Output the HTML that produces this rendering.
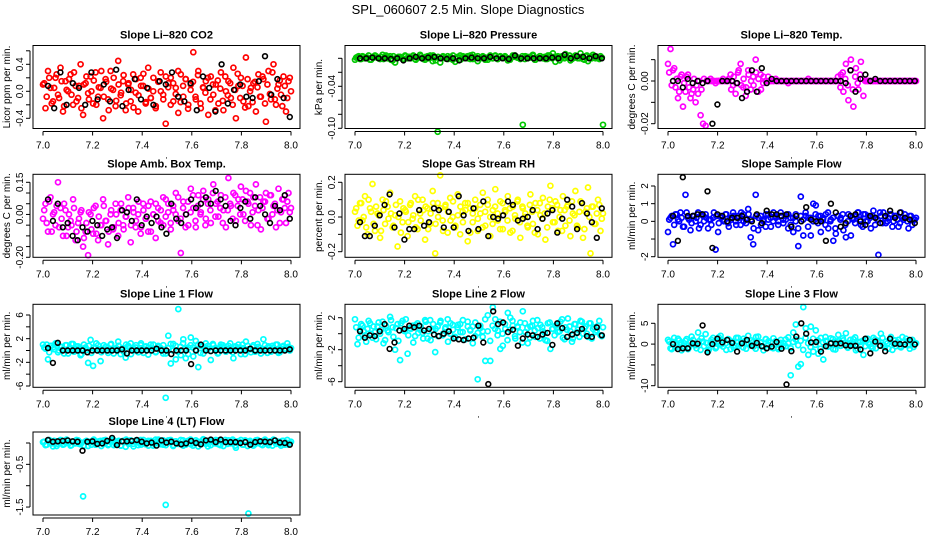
<!DOCTYPE html>
<html><head><meta charset="utf-8"><style>
body{margin:0;background:#fff}
svg{display:block;font-family:"Liberation Sans",Arial,sans-serif}
</style></head><body>
<svg id="chart" width="936" height="540" viewBox="0 0 936 540" xmlns="http://www.w3.org/2000/svg">
<text x="468" y="14" text-anchor="middle" font-size="13">SPL_060607  2.5 Min. Slope Diagnostics</text>
</svg>
<script>
const xTickValues=[7.0,7.2,7.4,7.6,7.8,8.0];
const xTickLabels=["7.0","7.2","7.4","7.6","7.8","8.0"];

const co2Values=[0.10,-0.25,0.30,0.05,-0.15,0.20,-0.05,0.35,-0.30,0.15,0,0.25,-0.20,0.08,-0.10,0.40,-0.35,0.12,-0.03,0.22,-0.18,0.28,-0.08,0.05,-0.40,0.18,-0.12,0.30,0.02,-0.22,0.45,-0.06,0.15,-0.28,0.10,-0.15,0.25,-0.02,-0.30,0.20,0.08,-0.18,0.35,-0.10,0,-0.25,0.15,0.28,-0.05,-0.48,0.12,0.20,-0.15,0.05,-0.32,0.25,-0.08,0.18,-0.20,0.10,0.58,-0.12,0.30,-0.25,0.05,0.15,-0.35,0.22,-0.05,0.10,-0.18,0.28,-0.28,0,0.15,-0.10,0.35,-0.40,0.08,0.20,-0.15,0.50,-0.22,0.05,0.12,-0.30,0.25,-0.08,0.18,-0.45,0.30,-0.12,0.40,-0.20,0.10,-0.05,0.22,-0.30,0.15,0];
const co2Values2=[0.12,-0.08,0.2,-0.18,0.05,0.25,-0.1,0.15,-0.22,0.02,0.18,-0.05,0.28,-0.15,0.08,-0.25,0.1,0.22,-0.12,0,0.16,-0.2,0.06,0.3,-0.08,0.14,-0.28,0.04,0.2,-0.14,0.1,-0.02,0.24,-0.18,0.12,0.02,-0.24,0.18,-0.06,0.08,0.26,-0.16,0.04,-0.1,0.2,-0.22,0.14,0.0,-0.12,0.22,0.06,-0.2,0.12,-0.04,0.3,-0.16,0.08,0.18,-0.26,0.02,0.14,-0.08,0.24,-0.18,0.06,-0.02,0.2,-0.12,0.1,-0.28,0.16,0.04,-0.14,0.22,-0.06,0.12,-0.2,0.02,0.26,-0.1,0.08,-0.24,0.18,0.0,-0.16,0.14,0.06,-0.08,0.22,-0.18,0.1,-0.04,0.28,-0.12,0.04,0.16,-0.22,0.08,-0.1,0.2];
const co2Ref=[0.08,-0.25,0.28,-0.20,0.12,0.05,-0.20,0.28,-0.12,0.10,-0.15,0.32,-0.22,0.02,0.18,-0.12,0.05,-0.20,0.15,0.10,0.28,-0.08,-0.15,0.12,-0.28,0.22,0.05,-0.30,0.40,-0.18,0.02,0.10,-0.08,-0.10,0.15,0.52,-0.05,0.18,-0.10,-0.38];
const co2Ticks=[-0.4,-0.2,0,0.2,0.4,0.6];
const co2TickLabels=["-0.4","","0.0","","0.4",""];

const pressValues=[-0.002,0.002,-0.001,0.003,0,0.001,-0.002,0.002,0.004,0.001,-0.001,0.005,0.002,0,0.003,-0.003,-0.006,0.001,0.002,-0.001,0.004,0,0.002,0.003,-0.001,0.001,0.005,0,-0.002,0.003,0.004,-0.004,0.001,-0.105,-0.006,0.002,0,0.003,0.001,-0.002,-0.005,0.002,0.004,0,0.001,0.003,-0.001,0.005,0.002,-0.004,0,0.003,0.001,-0.002,0.002,0,0.004,-0.001,0.003,0.001,0.002,-0.003,0,0.004,0.002,0.001,-0.001,-0.095,0.003,0,0.002,0.005,-0.002,0.001,0.003,0,-0.001,0.004,0.002,0.007,-0.005,0.003,0,0.002,0.006,0.001,-0.003,0.002,0.004,0,0.007,-0.001,0.003,-0.004,0.002,0.005,0,0.001,0.003,-0.095];
const pressValues2=[0.001,0.003,-0.001,0.002,0,0.004,-0.002,0.001,0.003,0,0.002,-0.001,0.004,0.001,-0.002,0.003,0,0.002,0.001,-0.001,0.003,0.002,0,0.004,-0.002,0.001,0.003,-0.001,0.002,0,0.001,0.004,-0.003,0.002,0,0.003,0.001,-0.001,0.002,0.004,0,0.001,-0.002,0.003,0.002,0,0.004,-0.001,0.001,0.003,0,0.002,-0.002,0.001,0.004,0,0.003,-0.001,0.002,0.001,0.003,0,-0.002,0.002,0.004,0.001,0,0.003,-0.001,0.002,0.001,0.004,-0.002,0,0.003,0.001,0.002,-0.001,0.004,0,0.002,0.001,-0.003,0.003,0,0.002,0.004,-0.001,0.001,0.003,0,0.002,-0.002,0.004,0.001,0,0.003,0.002,-0.001,0.001];
const pressRef=[0,0,0.001,0,0,-0.001,0,-0.003,0,0.002,0,0.001,0.002,0,-0.001,0,-0.003,0,0.001,0,0,0.002,0,0,-0.001,0.004,0,0,0,0,0,0.001,0,0.005,0,0.003,0.002,0,0.003,0];
const pressTicks=[0,-0.02,-0.04,-0.06,-0.08,-0.10];
const pressTickLabels=["","","-0.04","","","-0.10"];

const liTempValues=[0.008,0.015,0.005,-0.003,-0.008,0.002,-0.012,-0.005,0.003,-0.008,-0.004,-0.010,-0.006,-0.016,-0.020,-0.021,0,0.001,0,-0.001,0,0,0.001,0,0,0.003,-0.002,-0.006,0.004,0.008,-0.003,-0.007,0.005,-0.004,0.002,0.010,-0.005,0.003,-0.001,0,0.002,0,0,0.001,0,0,0,0,-0.001,0,0,0,0,0,0,0,0.001,0,0,0,0,0,0,0,0,0,0,0,0,0.003,-0.005,0.008,-0.009,0.010,-0.012,0.006,-0.004,0.009,-0.007,0,0,0,0,0,0,0,0,0,0,0,0,0,0,0,0,0,0,0,0,0];
const liTempValues2=[0.004,-0.002,0.006,0.001,-0.005,0.003,-0.001,0.002,-0.003,-0.006,0.001,-0.002,0.000,-0.004,0.001,0,0,0,0,0,0,0,0,0,0.001,-0.004,0.002,-0.001,0.005,-0.002,0.001,-0.003,0.003,0.000,-0.002,0.004,0.001,-0.004,0.002,0,0,0,0,0,0,0,0,0,0,0,0,0,0,0,0,0,0,0,0,0,0,0,0,0,0,0,0,0,0.002,-0.003,0.004,0.001,-0.002,0.005,-0.004,0.002,-0.001,0.003,0.001,0,0,0,0,0,0,0,0,0,0,0,0,0,0,0,0,0,0,0,0,0];
const liTempRef=[0,0,-0.003,0.001,-0.001,0,-0.001,0,-0.020,-0.011,0,0,0,-0.001,-0.008,-0.005,0.005,-0.005,0.006,-0.001,0.001,0,0,0,0,0,0,0,0,0,0,0,0,0,0,-0.001,0.005,-0.005,0.001,0.003,0,0.001,0,0,0,0,0,0,0,0];
const liTempTicks=[0.01,0,-0.01,-0.02];
const liTempTickLabels=["","0.00","","-0.02"];

const ambValues=[-0.02,0.05,-0.08,0.08,0,-0.05,0.15,0.03,-0.10,0.02,-0.06,-0.03,0.07,-0.12,-0.04,0.01,-0.15,-0.08,-0.19,0,-0.09,0.04,-0.12,-0.05,0.07,-0.03,-0.14,0,-0.07,0.05,-0.10,0.02,-0.05,-0.01,0.08,-0.13,0.03,-0.06,0,-0.09,0.05,-0.02,-0.08,0.06,0,-0.11,0.03,-0.04,0.08,-0.01,0.05,-0.07,0.02,0.10,-0.03,-0.18,0.06,0,-0.05,0.12,0.03,-0.06,0.09,0.01,0.11,-0.02,0.07,-0.04,0.14,0.05,-0.01,0.09,0.02,-0.06,0.17,0.04,0.10,-0.03,0.07,0.13,0,0.11,0.05,-0.05,0.08,0.14,0.02,-0.07,0.06,0.10,-0.02,0.09,0.04,-0.06,0.12,0.01,0.07,-0.04,0.10,0.03];
const ambValues2=[0.02,-0.04,0.06,-0.08,0.01,0.04,-0.06,-0.02,0.05,-0.1,0.0,-0.05,0.03,-0.08,-0.02,0.02,-0.11,-0.04,0.01,-0.07,0.03,-0.09,-0.01,-0.05,0.04,-0.03,-0.08,0.02,-0.06,0.0,-0.04,0.05,-0.07,-0.01,0.03,-0.05,0.01,-0.03,0.06,-0.06,0.02,-0.02,0.04,-0.08,0.0,0.05,-0.03,0.02,-0.05,0.07,0.01,-0.04,0.04,0.0,0.08,-0.02,0.03,-0.06,0.06,0.01,0.09,-0.03,0.04,0.0,0.07,-0.05,0.05,0.02,0.1,-0.01,0.06,0.03,-0.04,0.08,0.02,0.05,-0.02,0.09,0.04,0.0,0.07,-0.03,0.06,0.1,0.01,0.04,-0.05,0.08,0.03,0.06,-0.02,0.09,0.0,0.05,0.02,-0.04,0.07,0.03,0.06,0.01];
const ambRef=[0.07,-0.03,0.05,-0.06,-0.04,-0.10,-0.12,-0.06,-0.08,-0.03,-0.05,-0.10,-0.07,-0.06,-0.11,0.02,0.01,-0.03,0.07,-0.05,-0.01,-0.04,-0.01,-0.06,-0.09,0.05,-0.02,-0.04,0,0.07,0.03,0.05,0.08,0.05,0.11,0.07,0.04,-0.03,-0.05,0.03,0.06,-0.02,0.08,0.04,0,-0.04,0.04,0.02,0.09,-0.02];
const ambTicks=[0.15,0.10,0.05,0,-0.05,-0.10,-0.15,-0.20];
const ambTickLabels=["0.15","","","0.00","","","","-0.20"];

const rhValues=[0.03,-0.05,0.08,-0.02,0.12,-0.1,0.05,0.19,-0.08,0.02,-0.12,0.1,-0.04,0.06,0.14,-0.06,0.01,-0.17,0.09,-0.03,0.04,-0.11,0.07,-0.01,0.12,-0.07,0.02,0.1,-0.13,0.05,-0.04,0.15,-0.21,0.08,0.24,-0.02,0.06,-0.09,0.11,0.0,-0.06,0.13,-0.1,0.03,0.08,-0.14,0.05,-0.03,0.1,-0.08,0.02,0.14,-0.05,0.07,-0.11,0.04,0.16,-0.02,0.09,-0.07,0.03,0.12,-0.09,0.06,-0.01,0.1,-0.12,0.05,0.02,-0.06,0.13,-0.04,0.08,-0.1,0.01,0.11,-0.13,0.06,0.18,-0.03,0.09,-0.08,0.04,0.12,-0.05,0.07,-0.11,0.02,0.15,-0.06,0.09,-0.12,0.03,0.17,-0.21,0.06,-0.04,0.1,-0.08,0.02];
const rhValues2=[0.05,-0.02,0.08,0.0,-0.06,0.1,0.03,-0.04,0.06,0.01,-0.08,0.04,0.09,-0.01,0.02,-0.05,0.07,0.0,-0.09,0.05,0.03,-0.03,0.08,0.01,-0.06,0.1,-0.02,0.04,0.06,-0.07,0.02,0.08,-0.04,0.0,0.05,-0.08,0.07,0.03,-0.02,0.09,-0.05,0.01,0.06,-0.03,0.04,0.08,-0.09,0.02,0.05,-0.01,0.07,-0.06,0.03,0.1,0.0,-0.04,0.06,0.02,-0.07,0.08,0.04,-0.02,0.05,-0.08,0.01,0.09,-0.03,0.06,0.0,-0.05,0.07,0.03,-0.09,0.04,0.08,-0.01,0.02,-0.06,0.1,0.05,-0.03,0.07,0.0,-0.08,0.04,0.06,-0.02,0.09,0.01,-0.05,0.03,0.08,-0.07,0.05,0.0,0.06,-0.04,0.02,0.07,-0.01];
const rhRef=[-0.03,-0.11,-0.11,-0.05,0.01,0.07,0.13,-0.06,0.02,-0.13,-0.07,-0.07,0.04,-0.05,-0.03,0.05,0.04,-0.06,0.03,-0.06,0.12,0.01,-0.08,0.05,-0.07,0.09,-0.11,0.0,-0.01,0.01,0.09,0.07,-0.02,-0.01,0.0,0.04,-0.07,-0.01,0.02,0.04,-0.09,-0.01,0.1,0.06,-0.07,0.08,0.02,-0.03,-0.12,0.05];
const rhTicks=[0.2,0.1,0,-0.1,-0.2];
const rhTickLabels=["0.2","","0.0","","-0.2"];

const sampleValues=[-0.6,0.2,-1.3,0.4,0.1,0.5,-0.3,1.5,0.2,-0.5,0.3,0.0,0.5,-0.2,0.3,0.4,-0.4,0.1,0.2,-1.6,-0.6,0.3,0.1,0.4,-0.1,0.2,0.5,0.0,0.3,-0.2,0.4,0.1,0.7,-0.9,-1.3,1.5,-0.5,0.3,0.1,-0.3,0.4,0.2,0.0,0.3,-0.2,0.5,0.1,0.3,-0.4,0.2,-0.6,0.4,-1.4,1.4,-0.8,0.3,0.2,-0.8,1.0,0.9,0.3,-0.6,0.2,0.4,-0.4,0.1,-1.1,-0.7,0.3,0.2,-0.5,-0.9,0.4,-0.8,0.1,0.3,0.5,-0.2,0.4,0.0,0.3,-0.4,0.6,0.2,-1.9,0.3,0.5,-0.1,0.2,0.4,0.0,0.3,-0.3,0.5,0.1,0.2,-0.4,0.3,0.1,0.2];
const sampleValues2=[0.1,0.3,-0.2,0.4,0.0,0.2,-0.3,0.5,0.1,-0.1,0.3,0.2,-0.4,0.4,0.0,0.2,0.1,-0.2,0.5,0.3,-0.1,0.2,0.0,0.4,-0.3,0.1,0.3,-0.2,0.2,0.5,0.0,-0.1,0.4,0.1,-0.4,0.3,0.2,-0.2,0.0,0.4,0.1,-0.3,0.5,0.2,0.0,0.3,-0.1,0.1,0.4,-0.2,0.2,0.0,-0.4,0.3,0.1,0.5,-0.3,0.2,0.0,0.4,-0.1,0.3,0.1,-0.2,0.5,0.0,0.2,-0.4,0.3,0.1,0.4,-0.2,0.0,0.3,0.2,-0.1,0.5,0.1,-0.3,0.4,0.0,0.2,0.3,-0.2,0.1,0.5,-0.1,0.2,0.0,0.4,-0.3,0.3,0.1,-0.1,0.2,0.4,0.0,0.3,-0.2,0.1];
const sampleRef=[0.3,-1.1,2.5,0.3,0.3,0.4,0.4,1.7,-1.5,0.4,0.3,0.0,0.2,0.2,0.3,0.1,0.0,0.4,-0.1,0.6,0.4,0.4,0.3,0.4,-0.3,0.3,0.0,0.8,0.1,0.0,0.0,-1.1,1.0,0.5,-0.3,-0.1,0.3,0.4,0.0,-0.2,0.3,0.2,-0.1,0.3,0.6,0.2,0.5,0.2,0.1,-0.1];
const sampleTicks=[2,1,0,-1,-2];
const sampleTickLabels=["2","1","0","","-2"];

const line1Values=[1.0,0.3,-1.5,0.8,0.5,1.2,-0.3,0.6,0.2,0.9,-0.5,0.4,1.1,0.0,0.7,-0.8,0.3,0.5,-2.1,1.8,-2.6,0.4,0.9,-1.8,0.2,0.6,-0.4,1.0,0.3,0.1,1.5,-0.6,0.4,-1.2,0.8,1.2,0.0,0.5,-0.3,0.9,0.2,0.6,-0.7,1.0,0.3,-0.2,0.8,0.4,-0.5,-8.0,2.5,-2.2,1.1,-1.5,7.0,-0.8,1.9,-1.3,0.5,2.2,-1.0,1.6,-2.8,0.8,-0.5,1.2,0.3,-1.6,0.9,0.2,-0.4,1.0,0.5,-0.2,0.8,0.3,-1.3,0.6,1.0,-0.6,0.4,1.5,0.2,-0.3,0.9,0.1,0.6,-0.5,1.9,0.3,0.7,-0.2,0.5,1.0,-0.4,0.3,0.8,0.1,0.6,0.4];
const line1Values2=[0.5,1.0,-0.3,0.8,0.2,1.2,0.0,0.6,-0.5,0.9,0.3,1.1,-0.2,0.7,0.4,-0.6,1.0,0.1,0.8,-0.4,0.5,1.2,0.2,-0.3,0.9,0.6,0.0,1.1,-0.5,0.4,0.8,0.2,-0.2,1.0,0.6,-0.6,0.3,0.9,0.1,1.2,-0.4,0.7,0.5,0.0,1.0,-0.3,0.6,0.2,0.9,-0.5,0.4,1.1,0.0,0.8,-0.2,0.6,1.2,0.3,-0.6,0.9,0.5,0.1,1.0,-0.4,0.7,0.2,0.8,-0.1,1.1,0.4,-0.5,0.6,0.9,0.0,0.3,1.2,-0.3,0.7,0.5,0.1,1.0,-0.6,0.8,0.2,0.6,-0.2,1.1,0.4,0.0,0.9,-0.4,0.5,0.8,0.1,1.0,-0.3,0.6,0.3,1.2,0.0];
const line1Ref=[0.4,-2.1,1.3,0.0,0.0,0.0,0.0,0.0,-0.3,0.0,0.0,0.0,0.0,0.0,0.0,0.2,-0.5,0.0,0.0,0.0,0.0,0.0,0.3,0.0,0.0,-0.6,0.0,0.0,0.0,-2.3,0.0,1.0,0.0,-0.1,0.0,0.0,0.0,0.0,0.0,0.0,0.0,0.3,0.0,0.0,0.0,0.0,0.0,0.0,0.0,0.2];
const line1Ticks=[6,4,2,0,-2,-4,-6];
const line1TickLabels=["6","","2","","-2","","-6"];

const line2Values=[1.8,-1.3,0.5,1.0,-0.2,0.6,1.3,-0.5,0.2,0.9,0.0,1.5,-0.8,0.4,2.1,0.8,-2.0,1.2,-3.3,1.6,0.3,-2.5,0.7,1.0,-0.3,1.3,0.5,0.1,1.7,-0.6,1.7,0.4,-2.3,0.9,1.4,-0.2,0.6,1.8,0.0,1.1,-0.4,0.8,1.2,0.2,-0.7,1.5,0.5,0.9,-0.3,-5.7,1.0,0.3,-3.4,2.3,-3.4,3.3,1.8,0.4,-1.9,-1.5,0.6,2.6,2.0,1.0,-0.6,0.8,1.4,2.8,0.2,-1.2,0.9,1.6,-0.4,0.7,1.1,0.3,-0.8,1.3,-1.9,0.6,1.0,0.2,1.5,-0.5,0.8,1.9,0.3,-0.6,1.2,0.5,1.6,0.0,0.9,-0.4,1.3,0.6,0.2,1.0,-0.2,0.8];
const line2Values2=[0.8,-0.5,1.2,0.3,-1.0,1.6,0.0,0.9,-0.7,1.4,0.5,-1.2,1.0,0.2,1.7,-0.4,0.7,-0.9,1.3,0.4,1.8,-0.2,0.6,-1.1,1.1,0.1,0.9,-0.6,1.5,0.3,-0.8,1.2,0.6,-0.3,1.6,0.0,0.8,-1.0,1.3,0.5,-0.5,1.1,0.2,1.7,-0.7,0.9,0.4,-1.2,1.4,0.1,0.7,-0.4,1.8,0.3,-0.9,1.0,0.6,-0.2,1.5,0.0,1.2,-0.8,0.5,1.6,-0.3,0.9,0.2,-1.1,1.3,0.7,-0.5,1.0,0.4,1.7,-0.6,0.8,0.1,-0.9,1.4,0.6,-0.2,1.1,0.3,1.8,-0.7,0.5,0.9,-1.0,1.2,0.2,-0.4,1.5,0.7,0.0,1.3,-0.6,0.8,0.4,1.6,-0.3];
const line2Ref=[0.3,-0.5,-0.2,-0.3,0.3,1.2,-1.9,-1.1,0.4,0.6,1.0,0.8,1.0,0.4,0.6,-0.1,-0.3,0.0,0.3,-0.6,-0.7,-0.8,-0.6,-0.5,1.0,-1.1,-6.3,2.8,1.2,1.4,0.2,0.5,-1.5,-0.6,-0.1,-0.2,-0.4,-0.1,0.1,-1.4,1.3,0.7,-0.4,-0.1,0.1,0.6,-0.3,-0.4,0.8,-0.2];
const line2Ticks=[2,0,-2,-4,-6];
const line2TickLabels=["2","","-2","","-6"];

const line3Values=[1.0,-1.0,0.5,-0.8,1.3,0.2,-0.5,0.8,-1.2,0.4,1.0,-0.3,2.8,-1.4,0.6,2.4,-1.7,0.3,1.5,-1.0,0.8,2.0,-0.6,0.2,1.2,-1.2,0.6,-0.4,1.5,0.0,-0.8,0.9,2.0,-0.3,0.5,-1.1,1.8,0.3,-0.6,1.2,-0.2,0.4,-1.0,0.7,-0.8,0.3,-0.5,1.1,0.2,-7.5,2.8,4.7,-5.4,-4.8,8.9,3.8,-2.6,4.2,-1.8,3.3,-2.3,1.5,-3.7,0.8,-0.5,1.4,-1.2,0.6,2.2,-0.4,0.9,2.6,-0.7,0.3,1.2,-1.5,0.5,-0.3,-2.6,1.0,0.2,-0.6,1.5,-1.0,0.8,2.5,-0.2,0.6,-1.1,1.7,0.1,-0.5,1.0,-0.8,0.4,1.3,-0.3,0.6,-0.7,0.2];
const line3Values2=[0.6,-1.2,1.5,-0.3,0.9,-1.5,0.2,1.2,-0.8,1.8,0.0,-1.0,0.7,1.4,-0.5,0.3,-1.3,1.0,0.5,-0.7,1.6,-0.1,0.8,-1.4,1.1,0.2,-0.9,1.5,-0.4,0.6,1.3,-1.1,0.1,0.9,-0.6,1.7,-0.2,0.4,-1.5,1.2,0.7,-0.8,1.4,0.0,-1.2,1.0,0.3,-0.5,1.6,-1.0,0.5,1.1,-0.3,0.8,-1.4,1.5,0.2,-0.7,1.3,-0.2,0.9,-1.1,0.4,1.7,-0.6,0.1,1.2,-1.3,0.7,-0.4,1.4,0.3,-0.9,1.0,-0.1,1.6,-1.2,0.5,0.8,-0.5,1.3,0.0,-1.0,1.1,0.6,-0.3,1.5,-0.8,0.2,1.2,-1.4,0.9,0.4,-0.6,1.7,-0.2,0.7,-1.1,1.0,0.3];
const line3Ref=[0.0,-1.2,-1.0,-1.0,0.2,0.1,4.5,-2.0,0.0,1.3,0.4,1.0,0.3,-1.8,0.2,1.0,-0.4,0.3,-0.5,-1.0,-0.6,0.5,-1.1,-9.7,-1.7,1.8,5.0,2.5,0.4,0.5,-1.8,-0.5,0.2,0.1,0.2,-0.3,-0.4,-0.4,-1.3,1.3,-2.2,0.6,-0.4,-1.7,1.3,0.1,0.0,-0.1,1.0,-0.1];
const line3Ticks=[5,0,-5,-10];
const line3TickLabels=["5","0","","-10"];

const line4Values=[0.02,-0.05,0.06,0.0,-0.08,0.04,-0.02,0.07,-0.04,0.01,0.05,-0.06,0.03,-0.01,0.06,-0.03,-1.25,0.04,-0.07,0.02,0.06,-0.04,0.0,0.05,-0.02,0.07,-0.05,0.03,0.08,-0.03,0.01,-0.06,0.05,-0.09,0.02,0.06,-0.02,0.04,-0.05,0.07,0.0,-0.03,0.05,0.02,-0.06,0.08,-0.01,0.03,-0.04,-1.45,0.06,0.01,-0.05,0.04,-0.02,0.07,-0.06,0.02,0.05,-0.03,0.0,0.06,-0.08,0.03,0.09,-0.02,0.05,-0.05,0.01,0.07,-0.03,0.04,-0.07,0.02,0.06,-0.01,0.04,-0.11,0.03,0.07,-0.04,0.05,-1.65,0.02,-0.06,0.06,0.0,-0.03,0.05,0.02,-0.05,0.04,0.08,-0.02,0.03,-0.06,0.05,0.01,-0.04,0.03];
const line4Values2=[0.03,-0.04,0.07,-0.01,0.05,-0.07,0.02,0.06,-0.03,0.08,0.0,-0.05,0.04,0.07,-0.02,0.01,-0.06,0.05,0.03,-0.04,0.08,-0.01,0.04,-0.07,0.06,0.02,-0.03,0.07,-0.05,0.0,0.05,-0.06,0.03,0.08,-0.02,0.04,-0.08,0.06,0.01,-0.04,0.07,0.02,-0.06,0.05,-0.01,0.03,0.08,-0.03,0.06,-0.05,0.02,0.07,-0.07,0.04,0.0,-0.02,0.06,-0.04,0.05,0.08,-0.06,0.01,0.03,-0.03,0.07,0.02,-0.08,0.05,0.04,-0.01,0.06,-0.05,0.03,0.07,-0.02,0.0,0.08,-0.06,0.04,0.02,-0.04,0.06,-0.07,0.05,0.01,-0.03,0.07,0.03,-0.05,0.08,-0.01,0.04,-0.06,0.06,0.02,-0.02,0.05,-0.04,0.07,0.0];
const line4Ref=[0.07,0.03,0.04,0.05,0.06,0.04,0.03,-0.18,0.03,0.04,-0.02,-0.01,0.05,0.12,-0.05,0.04,0.04,0.05,0.07,0.03,-0.01,0.01,-0.06,0.06,0.01,0.03,-0.01,-0.03,-0.01,0.05,0.0,-0.03,0.06,0.08,0.02,0.08,0.02,0.02,0.02,0.0,0.02,-0.04,0.02,0.04,0.03,0.02,0.06,0.01,0.0,-0.04];
const line4Ticks=[0,-0.5,-1,-1.5];
const line4TickLabels=["","-0.5","","-1.5"];

const NS="http://www.w3.org/2000/svg";
const svg=document.getElementById('chart');
const colLeft=[33,345,658], rowTop=[45.5,174.3,304.3,432], boxW=267, boxH=83;

const panels=[
 {key:'co2',title:'Slope Li\u2013820 CO2',ylab:'Licor ppm per min.',col:0,row:0,color:'#ff0000',v:co2Values,v2:co2Values2,r:co2Ref,t:co2Ticks,tl:co2TickLabels,s:[0.4,64.3,-0.4,118.3]},
 {key:'pressure',title:'Slope Li\u2013820 Pressure',ylab:'kPa per min.',col:1,row:0,color:'#00c800',v:pressValues,v2:pressValues2,r:pressRef,t:pressTicks,tl:pressTickLabels,s:[0,58.3,-0.04,86.3]},
 {key:'li-temp',title:'Slope Li\u2013820 Temp.',ylab:'degrees C per min.',col:2,row:0,color:'#ff00ff',v:liTempValues,v2:liTempValues2,r:liTempRef,t:liTempTicks,tl:liTempTickLabels,s:[0,81,-0.02,123.7]},
 {key:'amb-box-temp',title:'Slope Amb. Box Temp.',ylab:'degrees C per min.',col:0,row:1,color:'#ff00ff',v:ambValues,v2:ambValues2,r:ambRef,t:ambTicks,tl:ambTickLabels,s:[0.15,182.3,-0.20,257.3]},
 {key:'gas-rh',title:'Slope Gas Stream RH',ylab:'percent per min.',col:1,row:1,color:'#ffff00',v:rhValues,v2:rhValues2,r:rhRef,t:rhTicks,tl:rhTickLabels,s:[0.2,182.3,-0.2,251.7]},
 {key:'sample-flow',title:'Slope Sample Flow',ylab:'ml/min per min.',col:2,row:1,color:'#0000ff',v:sampleValues,v2:sampleValues2,r:sampleRef,t:sampleTicks,tl:sampleTickLabels,s:[2,186,-2,256.7]},
 {key:'line1-flow',title:'Slope Line 1 Flow',ylab:'ml/min per min.',col:0,row:2,color:'#00ffff',v:line1Values,v2:line1Values2,r:line1Ref,t:line1Ticks,tl:line1TickLabels,s:[6,315,-6,386]},
 {key:'line2-flow',title:'Slope Line 2 Flow',ylab:'ml/min per min.',col:1,row:2,color:'#00ffff',v:line2Values,v2:line2Values2,r:line2Ref,t:line2Ticks,tl:line2TickLabels,s:[2,317.7,-6,381.7]},
 {key:'line3-flow',title:'Slope Line 3 Flow',ylab:'ml/min per min.',col:2,row:2,color:'#00ffff',v:line3Values,v2:line3Values2,r:line3Ref,t:line3Ticks,tl:line3TickLabels,s:[5,323.3,-10,385.7]},
 {key:'line4-flow',title:'Slope Line 4 (LT) Flow',ylab:'ml/min per min.',col:0,row:3,color:'#00ffff',v:line4Values,v2:line4Values2,r:line4Ref,t:line4Ticks,tl:line4TickLabels,s:[0,443,-1,485.7]}
];

function mk(tag,attrs,parent){const e=document.createElementNS(NS,tag);for(const k in attrs)e.setAttribute(k,attrs[k]);(parent||svg).appendChild(e);return e;}

panels.forEach(p=>{
 const L=colLeft[p.col], T=rowTop[p.row], B=T+boxH;
 const xScale=v=>L+10+(v-7)*248;
 const yScale=v=>p.s[1]+(v-p.s[0])*(p.s[3]-p.s[1])/(p.s[2]-p.s[0]);
 const g=mk('g',{});
 
 
 const title=mk('text',{x:L+boxW/2,y:T-7,'text-anchor':'middle','font-size':'11','font-weight':'bold'},g);
 
 
 title.textContent=p.title;
 const yl=mk('text',{transform:`translate(${L-23},${T+boxH/2}) rotate(-90)`,'text-anchor':'middle','font-size':'10'},g);
 
 
 yl.textContent=p.ylab;
 const dot=mk('text',{x:L+boxW/2,y:B+30,'text-anchor':'middle','font-size':'10'},g);
 
 
 dot.textContent='.';
 const pg=mk('g',{fill:'none','stroke-width':'1.7'},g);
 
 
 const n=p.v.length;
 p.v.forEach((v,i)=>{
  const c=mk('circle',{cx:xScale(7+i/(n-1)).toFixed(1),cy:yScale(v).toFixed(1),r:'2.5',stroke:p.color},pg);
  
  
 });
 const n2=p.v2.length;
 p.v2.forEach((v,i)=>{
  const c=mk('circle',{cx:xScale(7+(i+0.5)/n2).toFixed(1),cy:yScale(v).toFixed(1),r:'2.5',stroke:p.color},pg);
  
  
 });
 const rg=mk('g',{fill:'none','stroke-width':'1.6',stroke:'#000'},g);
 
 
 const m=p.r.length;
 p.r.forEach((v,i)=>{
  const c=mk('circle',{cx:xScale(7.02+0.975*i/(m-1)).toFixed(1),cy:yScale(v).toFixed(1),r:'2.4'},rg);
  
  
 });
 const box=mk('rect',{x:L,y:T,width:boxW,height:boxH,fill:'none',stroke:'#000','stroke-width':'1'},g);
 
 
 const xa=mk('g',{stroke:'#000','stroke-width':'1'},g);
 
 
 mk('line',{x1:xScale(xTickValues[0]),x2:xScale(xTickValues[xTickValues.length-1]),y1:B+3,y2:B+3},xa);
 xTickValues.forEach((v,i)=>{
  mk('line',{x1:xScale(v),x2:xScale(v),y1:B+3,y2:B+7},xa);
  const t=mk('text',{x:xScale(v),y:B+20,'text-anchor':'middle','font-size':'10',stroke:'none'},xa);
  
  
  t.textContent=xTickLabels[i];
 });
 const ya=mk('g',{stroke:'#000','stroke-width':'1'},g);
 
 
 const ys=p.t.map(yScale);
 mk('line',{x1:L-3,x2:L-3,y1:Math.min(...ys),y2:Math.max(...ys)},ya);
 p.t.forEach((v,i)=>{
  const y=yScale(v);
  mk('line',{x1:L-7,x2:L-3,y1:y,y2:y},ya);
  if(p.tl[i]){
   const t=mk('text',{transform:`translate(${L-10},${y}) rotate(-90)`,'text-anchor':'middle','font-size':'10',stroke:'none'},ya);
   
   
   t.textContent=p.tl[i];
  }
 });
});
</script>
</body></html>
